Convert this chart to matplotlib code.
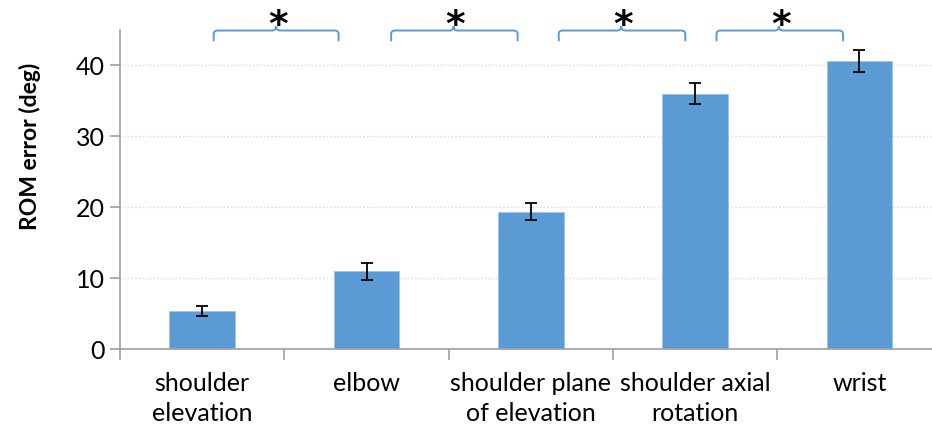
import numpy as np
import matplotlib.pyplot as plt
from matplotlib.path import Path
from matplotlib.patches import PathPatch

plt.rcParams['font.family'] = ['Lato', 'DejaVu Sans']

categories = ['shoulder\nelevation', 'elbow', 'shoulder plane\nof elevation',
              'shoulder axial\nrotation', 'wrist']
rom_error = [5.4, 11.0, 19.4, 36.0, 40.6]
rom_sd = [0.65, 1.2, 1.25, 1.5, 1.6]

# significance braces between neighbouring joints: (left, tip, right) in bar units
brace_spans = [(0.07, 0.45, 0.83), (1.15, 1.53, 1.92), (2.17, 2.55, 2.94), (3.13, 3.51, 3.90)]

bar_color = '#5B9BD5'
axis_gray = '#A0A0A0'


def brace(ax, x0, xm, x1, y, drop=1.4, rise=0.6, rx=0.025, ry=0.5):
    verts = [
        (x0, y - drop), (x0, y - ry), (x0, y), (x0 + rx, y),
        (xm - rx, y), (xm, y), (xm, y + rise),
        (xm, y), (xm + rx, y),
        (x1 - rx, y), (x1, y), (x1, y - ry), (x1, y - drop),
    ]
    codes = [Path.MOVETO, Path.LINETO, Path.CURVE3, Path.CURVE3,
             Path.LINETO, Path.CURVE3, Path.CURVE3,
             Path.CURVE3, Path.CURVE3,
             Path.LINETO, Path.CURVE3, Path.CURVE3, Path.LINETO]
    patch = PathPatch(Path(verts, codes), facecolor='none', edgecolor=bar_color,
                      lw=1.4, clip_on=False, capstyle='round')
    ax.add_patch(patch)


fig = plt.figure(figsize=(9.32, 4.32), dpi=100)
ax = fig.add_axes([0.1288, 0.1914, 0.8815, 0.7396])

x = np.arange(len(categories))
ax.bar(x, rom_error, width=0.4, color=bar_color, edgecolor='#9CC3E6', linewidth=0.6, zorder=2)
ax.errorbar(x, rom_error, yerr=rom_sd, fmt='none', ecolor='black', elinewidth=1.3,
            capsize=4.5, capthick=1.3, zorder=3)

ax.set_xlim(-0.5, 4.5)
ax.set_ylim(0, 45)
ax.set_yticks([0, 10, 20, 30, 40])
ax.yaxis.grid(True, color='#D9D9D9', linestyle=':', linewidth=1.0, zorder=0)
ax.set_axisbelow(True)

ax.set_xticks(x)
ax.set_xticklabels(categories, fontsize=18, linespacing=1.4)
ax.set_xticks(np.arange(-0.5, 5.0, 1.0), minor=True)
ax.tick_params(axis='x', which='major', length=0, pad=16)
ax.tick_params(axis='x', which='minor', length=8, color=axis_gray, width=1.2)
ax.tick_params(axis='y', length=7, color=axis_gray, width=1.2, labelsize=18, pad=4)

for side in ['top', 'right']:
    ax.spines[side].set_visible(False)
for side in ['left', 'bottom']:
    ax.spines[side].set_color(axis_gray)
    ax.spines[side].set_linewidth(1.2)

ax.set_ylabel('ROM error (deg)', fontsize=16.5, fontweight='bold')
ax.yaxis.set_label_coords(-0.096, 0.635)

for x0, xm, x1 in brace_spans:
    brace(ax, x0, xm, x1, 44.9)
    ax.text(xm + 0.01, 44.1, '*', fontsize=27, fontweight='bold', ha='center', va='baseline',
            clip_on=False, family='DejaVu Sans')

fig.savefig('out.png', dpi=100)
